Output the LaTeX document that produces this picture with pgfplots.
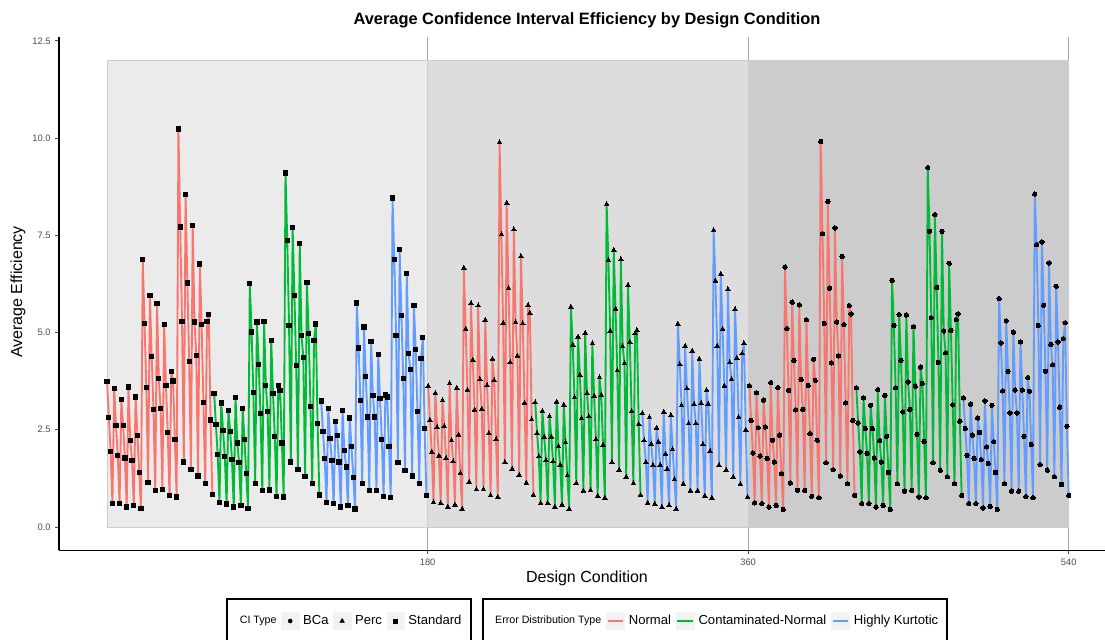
\documentclass[border=0pt]{standalone}
\usepackage{fontspec}
\setmainfont{Liberation Sans}
\usepackage{pgfplots}
\usepackage{pgfplotstable}
\pgfplotsset{compat=1.18}
\definecolor{cR}{HTML}{F8766D}
\definecolor{cG}{HTML}{00BA38}
\definecolor{cB}{HTML}{619CFF}
\definecolor{bgA}{HTML}{EBEBEB}
\definecolor{bgB}{HTML}{DDDDDD}
\definecolor{bgC}{HTML}{CCCCCC}
\definecolor{keybg}{HTML}{F2F2F2}

% Standard
\pgfplotstableread[row sep=\\]{y\\ 3.74\\ 2.82\\ 1.94\\ 0.61\\ 3.56\\ 2.61\\ 1.83\\ 0.61\\ 3.27\\ 2.61\\ 1.77\\ 0.51\\ 3.60\\ 2.22\\ 1.71\\ 0.55\\ 3.34\\ 2.36\\ 1.40\\ 0.47\\ 6.87\\ 5.23\\ 3.58\\ 1.14\\ 5.96\\ 4.38\\ 3.02\\ 0.94\\ 5.75\\ 3.81\\ 3.05\\ 0.97\\ 5.20\\ 3.63\\ 2.43\\ 0.80\\ 4.00\\ 3.75\\ 2.24\\ 0.77\\ 10.23\\ 7.71\\ 5.29\\ 1.67\\ 8.54\\ 6.27\\ 4.25\\ 1.47\\ 7.76\\ 5.27\\ 4.40\\ 1.31\\ 6.76\\ 5.20\\ 3.20\\ 1.12\\ 5.29\\ 5.46\\ 2.75\\ 0.84\\}\tSN
\pgfplotstableread[row sep=\\]{y\\ 3.44\\ 2.63\\ 1.86\\ 0.63\\ 3.19\\ 2.48\\ 1.81\\ 0.59\\ 3.00\\ 2.46\\ 1.73\\ 0.51\\ 3.32\\ 2.16\\ 1.66\\ 0.55\\ 3.04\\ 2.25\\ 1.37\\ 0.47\\ 6.26\\ 5.01\\ 3.46\\ 1.12\\ 5.27\\ 4.17\\ 2.91\\ 0.94\\ 5.29\\ 3.64\\ 2.96\\ 0.95\\ 4.80\\ 3.44\\ 2.33\\ 0.79\\ 3.63\\ 3.50\\ 2.16\\ 0.77\\ 9.10\\ 7.36\\ 5.18\\ 1.67\\ 7.70\\ 5.96\\ 4.15\\ 1.47\\ 7.29\\ 4.92\\ 4.36\\ 1.30\\ 6.29\\ 4.98\\ 3.10\\ 1.11\\ 4.80\\ 5.22\\ 2.66\\ 0.82\\}\tSC
\pgfplotstableread[row sep=\\]{y\\ 3.24\\ 2.46\\ 1.76\\ 0.63\\ 3.05\\ 2.27\\ 1.70\\ 0.60\\ 2.72\\ 2.36\\ 1.67\\ 0.51\\ 3.00\\ 1.96\\ 1.54\\ 0.55\\ 2.80\\ 2.06\\ 1.27\\ 0.46\\ 5.76\\ 4.60\\ 3.26\\ 1.12\\ 5.14\\ 3.87\\ 2.83\\ 0.93\\ 4.77\\ 3.38\\ 2.83\\ 0.94\\ 4.43\\ 3.30\\ 2.25\\ 0.79\\ 3.39\\ 3.34\\ 2.06\\ 0.75\\ 8.46\\ 6.87\\ 4.93\\ 1.65\\ 7.13\\ 5.44\\ 3.81\\ 1.46\\ 6.52\\ 4.46\\ 4.04\\ 1.31\\ 5.69\\ 4.56\\ 2.96\\ 1.11\\ 4.34\\ 4.87\\ 2.54\\ 0.81\\}\tSH
% Perc
\pgfplotstableread[row sep=\\]{y\\ 3.62\\ 2.75\\ 1.92\\ 0.63\\ 3.44\\ 2.56\\ 1.83\\ 0.61\\ 3.25\\ 2.59\\ 1.77\\ 0.52\\ 3.69\\ 2.22\\ 1.68\\ 0.57\\ 3.57\\ 2.37\\ 1.38\\ 0.46\\ 6.66\\ 5.09\\ 3.52\\ 1.15\\ 5.75\\ 4.29\\ 3.01\\ 0.96\\ 5.69\\ 3.79\\ 3.03\\ 0.96\\ 5.32\\ 3.64\\ 2.41\\ 0.81\\ 4.32\\ 3.77\\ 2.25\\ 0.77\\ 9.89\\ 7.52\\ 5.24\\ 1.66\\ 8.33\\ 6.14\\ 4.23\\ 1.49\\ 7.65\\ 5.26\\ 4.40\\ 1.33\\ 6.96\\ 5.23\\ 3.19\\ 1.13\\ 5.70\\ 5.50\\ 2.76\\ 0.82\\}\tPN
\pgfplotstableread[row sep=\\]{y\\ 3.20\\ 2.41\\ 1.81\\ 0.61\\ 2.98\\ 2.32\\ 1.72\\ 0.61\\ 2.84\\ 2.32\\ 1.68\\ 0.52\\ 3.22\\ 2.07\\ 1.59\\ 0.57\\ 3.14\\ 2.17\\ 1.32\\ 0.46\\ 5.66\\ 4.68\\ 3.33\\ 1.12\\ 4.89\\ 3.91\\ 2.79\\ 0.93\\ 4.98\\ 3.44\\ 2.84\\ 0.94\\ 4.72\\ 3.37\\ 2.25\\ 0.80\\ 3.84\\ 3.39\\ 2.11\\ 0.75\\ 8.30\\ 6.86\\ 5.04\\ 1.66\\ 7.12\\ 5.61\\ 4.02\\ 1.47\\ 6.88\\ 4.64\\ 4.21\\ 1.29\\ 6.22\\ 4.75\\ 2.98\\ 1.12\\ 4.98\\ 5.06\\ 2.64\\ 0.82\\}\tPC
\pgfplotstableread[row sep=\\]{y\\ 2.92\\ 2.22\\ 1.66\\ 0.62\\ 2.81\\ 2.13\\ 1.59\\ 0.59\\ 2.55\\ 2.19\\ 1.59\\ 0.51\\ 2.96\\ 1.88\\ 1.49\\ 0.55\\ 2.87\\ 1.99\\ 1.22\\ 0.46\\ 5.22\\ 4.18\\ 3.12\\ 1.11\\ 4.65\\ 3.56\\ 2.66\\ 0.93\\ 4.53\\ 3.16\\ 2.66\\ 0.93\\ 4.32\\ 3.18\\ 2.13\\ 0.80\\ 3.52\\ 3.16\\ 1.95\\ 0.75\\ 7.63\\ 6.33\\ 4.65\\ 1.59\\ 6.50\\ 5.09\\ 3.63\\ 1.47\\ 6.11\\ 4.23\\ 3.80\\ 1.28\\ 5.60\\ 4.34\\ 2.82\\ 1.10\\ 4.46\\ 4.72\\ 2.50\\ 0.77\\}\tPH
% BCa
\pgfplotstableread[row sep=\\]{y\\ 3.63\\ 2.74\\ 1.90\\ 0.62\\ 3.45\\ 2.55\\ 1.82\\ 0.60\\ 3.26\\ 2.57\\ 1.76\\ 0.51\\ 3.71\\ 2.23\\ 1.67\\ 0.55\\ 3.58\\ 2.36\\ 1.37\\ 0.45\\ 6.68\\ 5.10\\ 3.51\\ 1.13\\ 5.78\\ 4.28\\ 3.01\\ 0.94\\ 5.71\\ 3.79\\ 3.02\\ 0.94\\ 5.33\\ 3.64\\ 2.40\\ 0.79\\ 4.31\\ 3.77\\ 2.23\\ 0.75\\ 9.91\\ 7.54\\ 5.23\\ 1.65\\ 8.37\\ 6.14\\ 4.22\\ 1.47\\ 7.69\\ 5.27\\ 4.40\\ 1.31\\ 6.96\\ 5.20\\ 3.19\\ 1.11\\ 5.69\\ 5.48\\ 2.74\\ 0.81\\}\tBN
\pgfplotstableread[row sep=\\]{y\\ 3.58\\ 2.67\\ 1.93\\ 0.60\\ 3.32\\ 2.53\\ 1.89\\ 0.60\\ 3.13\\ 2.53\\ 1.77\\ 0.51\\ 3.53\\ 2.22\\ 1.67\\ 0.55\\ 3.38\\ 2.33\\ 1.40\\ 0.45\\ 6.34\\ 5.18\\ 3.58\\ 1.11\\ 5.46\\ 4.28\\ 2.96\\ 0.92\\ 5.45\\ 3.73\\ 3.02\\ 0.94\\ 5.15\\ 3.62\\ 2.38\\ 0.77\\ 4.11\\ 3.69\\ 2.20\\ 0.75\\ 9.24\\ 7.60\\ 5.38\\ 1.65\\ 8.03\\ 6.16\\ 4.23\\ 1.46\\ 7.60\\ 5.04\\ 4.48\\ 1.29\\ 6.78\\ 5.05\\ 3.14\\ 1.11\\ 5.33\\ 5.48\\ 2.72\\ 0.81\\}\tBC
\pgfplotstableread[row sep=\\]{y\\ 3.32\\ 2.53\\ 1.84\\ 0.60\\ 3.16\\ 2.36\\ 1.76\\ 0.60\\ 2.80\\ 2.43\\ 1.73\\ 0.49\\ 3.24\\ 2.06\\ 1.63\\ 0.53\\ 3.13\\ 2.19\\ 1.40\\ 0.45\\ 5.87\\ 4.73\\ 3.50\\ 1.11\\ 5.30\\ 4.00\\ 2.93\\ 0.92\\ 5.01\\ 3.52\\ 2.93\\ 0.92\\ 4.76\\ 3.52\\ 2.33\\ 0.78\\ 3.84\\ 3.49\\ 2.12\\ 0.75\\ 8.56\\ 7.26\\ 5.18\\ 1.60\\ 7.33\\ 5.70\\ 4.00\\ 1.46\\ 6.79\\ 4.69\\ 4.17\\ 1.29\\ 6.19\\ 4.76\\ 3.08\\ 1.09\\ 4.84\\ 5.25\\ 2.59\\ 0.81\\}\tBH

\pgfplotsset{
  serie/.style={line width=1.4pt, line join=round},
  mkS/.style={mark=square*, mark size=1.6pt, mark options={black, fill=black, line width=0pt, solid}},
  mkP/.style={mark=triangle*, mark size=2pt, mark options={black, fill=black, line width=0pt, solid}},
  mkB/.style={mark=*, mark size=1.65pt, mark options={black, fill=black, line width=0pt, solid}},
}

\begin{document}
\begin{tikzpicture}
\path[use as bounding box] (0pt,0pt) rectangle (828.75pt,-479.25pt);
\clip (0pt,0pt) rectangle (828.75pt,-479.25pt);

\begin{axis}[
  scale only axis, width=793.3pt, height=385pt,
  at={(44.25pt,-27.7pt)}, anchor=north west,
  xmin=-27, xmax=567, ymin=-0.6, ymax=12.6,
  axis x line*=bottom, axis y line*=left,
  axis line style={black, line width=1pt},
  xtick={180,360,540}, ytick={0,2.5,5,7.5,10,12.5},
  yticklabels={0.0,2.5,5.0,7.5,10.0,12.5},
  xmajorgrids, grid style={black!35, line width=0.7pt},
  tick align=outside, major tick length=2.75pt,
  tick style={black!70, line width=0.6pt},
  ticklabel style={font=\fontsize{7}{8}\selectfont, text=black!70},
  /pgf/number format/assume math mode=true,
]
\addplot[fill=bgA, draw=black!20, line width=0.6pt] coordinates {(0,0) (180,0) (180,12) (0,12)} -- cycle;
\addplot[fill=bgB, draw=black!20, line width=0.6pt] coordinates {(180,0) (360,0) (360,12) (180,12)} -- cycle;
\addplot[fill=bgC, draw=black!20, line width=0.6pt] coordinates {(360,0) (540,0) (540,12) (360,12)} -- cycle;

\addplot[cR, serie, mkS] table[x expr={(\coordindex+0)*1.00186}, y=y] {\tSN};
\addplot[cG, serie, mkS] table[x expr={(\coordindex+60)*1.00186}, y=y] {\tSC};
\addplot[cB, serie, mkS] table[x expr={(\coordindex+120)*1.00186}, y=y] {\tSH};
\addplot[cR, serie, mkP] table[x expr={(\coordindex+180)*1.00186}, y=y] {\tPN};
\addplot[cG, serie, mkP] table[x expr={(\coordindex+240)*1.00186}, y=y] {\tPC};
\addplot[cB, serie, mkP] table[x expr={(\coordindex+300)*1.00186}, y=y] {\tPH};
\addplot[cR, serie, mkB] table[x expr={(\coordindex+360)*1.00186}, y=y] {\tBN};
\addplot[cG, serie, mkB] table[x expr={(\coordindex+420)*1.00186}, y=y] {\tBC};
\addplot[cB, serie, mkB] table[x expr={(\coordindex+480)*1.00186}, y=y] {\tBH};
\end{axis}

\node[font=\bfseries\fontsize{12.3}{14}\selectfont] at (440.25pt,-15pt) {Average Confidence Interval Efficiency by Design Condition};
\node[font=\fontsize{12}{14}\selectfont] at (440.25pt,-433.5pt) {Design Condition};
\node[rotate=90, font=\fontsize{12}{14}\selectfont] at (13.5pt,-219pt) {Average Efficiency};

\draw[line width=1.1pt] (170.25pt,-449.25pt) rectangle (353.25pt,-484pt);
\draw[line width=1.1pt] (362.25pt,-449.25pt) rectangle (710.25pt,-484pt);

\begin{axis}[
  hide axis, scale only axis, width=5pt, height=5pt,
  at={(261.75pt,-465.75pt)}, anchor=center,
  xmin=0, xmax=1, ymin=0, ymax=1,
  legend columns=4,
  legend style={at={(0.5,0.5)}, anchor=center, draw=none, fill=none,
    font=\fontsize{9.8}{12}\selectfont,
    /tikz/every even column/.append style={column sep=3pt},
    /tikz/every odd column/.append style={column sep=2.5pt},
    cells={anchor=west}, nodes={inner sep=0.5pt}},
  legend image code/.code={\fill[keybg] (0pt,-6.5pt) rectangle (13pt,6.5pt);
    \draw[#1] plot coordinates {(6.5pt,0pt)};},
]
\addlegendimage{legend image code/.code={}}
\addlegendentry{\fontsize{8}{10}\selectfont CI Type}
\addlegendimage{black, only marks, mark=*, mark size=1.5pt}
\addlegendentry{BCa}
\addlegendimage{black, only marks, mark=triangle*, mark size=1.9pt}
\addlegendentry{Perc}
\addlegendimage{black, only marks, mark=square*, mark size=1.4pt}
\addlegendentry{Standard}
\end{axis}

\begin{axis}[
  hide axis, scale only axis, width=5pt, height=5pt,
  at={(536.25pt,-465.75pt)}, anchor=center,
  xmin=0, xmax=1, ymin=0, ymax=1,
  legend columns=4,
  legend style={at={(0.5,0.5)}, anchor=center, draw=none, fill=none,
    font=\fontsize{9.8}{12}\selectfont,
    /tikz/every even column/.append style={column sep=3pt},
    /tikz/every odd column/.append style={column sep=2.5pt},
    cells={anchor=west}, nodes={inner sep=0.5pt}},
  legend image code/.code={\fill[keybg] (0pt,-6.5pt) rectangle (13pt,6.5pt);
    \draw[#1] (0.8pt,0pt) -- (12.2pt,0pt);},
]
\addlegendimage{legend image code/.code={}}
\addlegendentry{\fontsize{8}{10}\selectfont Error Distribution Type}
\addlegendimage{cR, line width=1.2pt}
\addlegendentry{Normal}
\addlegendimage{cG, line width=1.2pt}
\addlegendentry{Contaminated-Normal}
\addlegendimage{cB, line width=1.2pt}
\addlegendentry{Highly Kurtotic}
\end{axis}
\end{tikzpicture}
\end{document}
